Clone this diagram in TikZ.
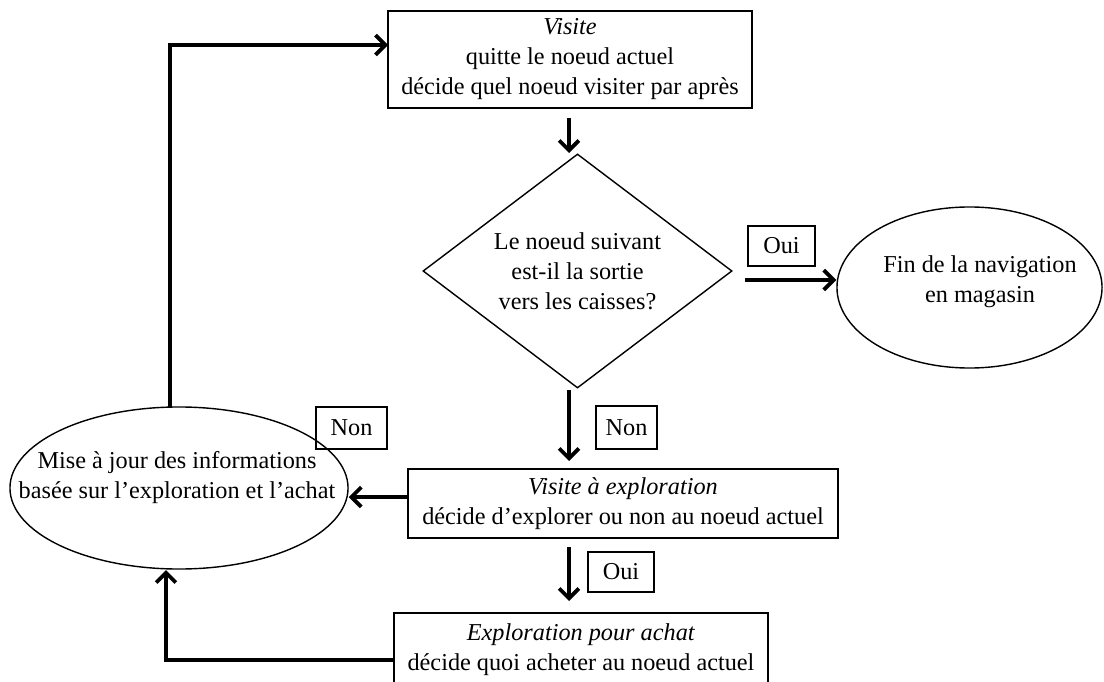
\documentclass[tikz,border=0pt]{standalone}
\usepackage{fontspec}
\setmainfont{Liberation Serif}
\usepackage{tikz}
\usetikzlibrary{arrows.meta,shapes.geometric,calc}
\tikzstyle{box}=[rectangle,draw=black,line width=1.3pt,inner sep=0pt,align=center]
\tikzstyle{oval}=[ellipse,draw=black,line width=1pt,inner sep=0pt]
\tikzstyle{txt}=[align=center,inner sep=0pt]
\tikzstyle{choix}=[diamond,draw=black,line width=1pt,inner sep=0pt,align=center,
  aspect=1.32,minimum width=7.725cm,minimum height=5.85cm]
\tikzstyle{rep}=[rectangle,draw=black,line width=1.2pt,inner sep=0pt,minimum height=1cm]
\tikzstyle{fl}=[line width=2.7pt,-{Straight Barb[length=7pt,width=14pt]}]

\begin{document}
\begin{tikzpicture}[x=0.025cm, y=-0.025cm, font=\fontsize{17.25}{21.3}\selectfont]
    \useasboundingbox (0, 0) rectangle (1104, 682);
    \node [style=box, minimum width=9.1cm, minimum height=2.425cm] (visite) at (570, 59.5)
      {\textit{Visite}\\quitte le noeud actuel\\décide quel noeud visiter par après};
    \node [style=choix] (test) at (577.5, 271)
      {Le noeud suivant\\est-il la sortie\\vers les caisses?};
    \node [style=oval, minimum width=6.625cm, minimum height=4.025cm] (fin) at (969.5, 287.5) {};
    \node [style=txt] (fintxt) at (980, 282) {Fin de la navigation\\en magasin};
    \node [style=oval, minimum width=8.45cm, minimum height=4.05cm] (maj) at (179, 488) {};
    \node [style=txt] (majtxt) at (177, 478)
      {Mise à jour des informations\\basée sur l’exploration et l’achat};
    \node [style=box, minimum width=10.75cm, minimum height=1.725cm] (explo) at (623, 503.5)
      {\textit{Visite à exploration}\\décide d’explorer ou non au noeud actuel};
    \node [style=box, minimum width=9.35cm, minimum height=1.85cm] (achat) at (581, 650)
      {\textit{Exploration pour achat}\\décide quoi acheter au noeud actuel};
    \node [style=rep, minimum width=1.675cm] (oui1) at (781.5, 246) {Oui};
    \node [style=rep, minimum width=1.525cm, minimum height=1.075cm] (non1) at (626.5, 427.5) {Non};
    \node [style=rep, minimum width=1.775cm, minimum height=1.05cm] (non2) at (351.5, 428) {Non};
    \node [style=rep, minimum width=1.65cm] (oui2) at (621, 572) {Oui};
    \coordinate (v0) at (569, 118);
    \coordinate (v1) at (569, 153);
    \coordinate (o0) at (745, 280);
    \coordinate (n0) at (569, 390);
    \coordinate (n1) at (569, 461);
    \coordinate (e0) at (408, 497);
    \coordinate (m0) at (170, 407);
    \coordinate (m1) at (388, 45);
    \coordinate (a0) at (569, 547);
    \coordinate (a1) at (569, 601);
    \coordinate (b0) at (394, 660);
    \coordinate (b1) at (166, 570);
    \draw [style=fl] (v0) to (v1);
    \draw [style=fl] (o0) -- (o0 -| fin.west);
    \draw [style=fl] (n0) to (n1);
    \draw [style=fl] (e0) -- (e0 -| maj.east);
    \draw [style=fl] (m0) |- (m1);
    \draw [style=fl] (a0) to (a1);
    \draw [style=fl] (b0) -| (b1);
\end{tikzpicture}
\end{document}
